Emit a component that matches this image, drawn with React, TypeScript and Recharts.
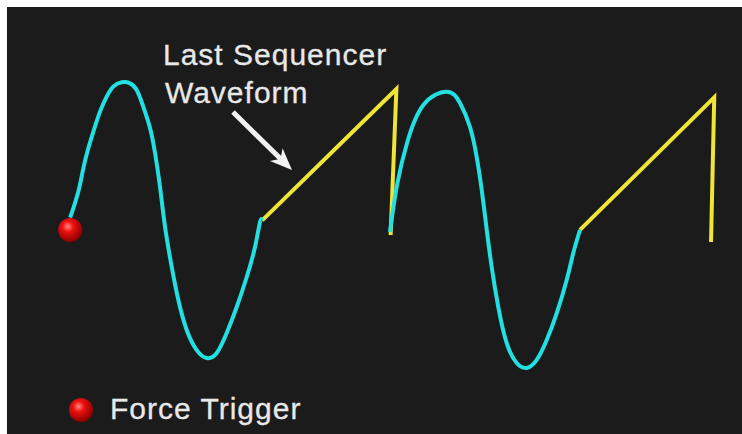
import { ComposedChart, Line, Scatter, XAxis, YAxis, ReferenceLine, ReferenceDot, Legend } from "recharts";

type Pt = { t: number; v: number };

// t = time (arbitrary units), v = level (normalised)
const sineBurst1: Pt[] = [
  { t: 0.0, v: 0.05 },
  { t: 0.126, v: 0.235 },
  { t: 0.204, v: 0.402 },
  { t: 0.282, v: 0.546 },
  { t: 0.36, v: 0.664 },
  { t: 0.464, v: 0.808 },
  { t: 0.568, v: 0.915 },
  { t: 0.671, v: 0.987 },
  { t: 0.802, v: 1.018 },
  { t: 0.931, v: 1.011 },
  { t: 1.036, v: 0.963 },
  { t: 1.135, v: 0.848 },
  { t: 1.243, v: 0.691 },
  { t: 1.321, v: 0.512 },
  { t: 1.399, v: 0.268 },
  { t: 1.477, v: -0.018 },
  { t: 1.581, v: -0.304 },
  { t: 1.684, v: -0.541 },
  { t: 1.814, v: -0.755 },
  { t: 1.97, v: -0.899 },
  { t: 2.126, v: -0.956 },
  { t: 2.282, v: -0.92 },
  { t: 2.437, v: -0.777 },
  { t: 2.593, v: -0.591 },
  { t: 2.749, v: -0.376 },
  { t: 2.878, v: -0.161 },
  { t: 2.956, v: 0.018 },
  { t: 2.99, v: 0.03 },
];

const ramp1: Pt[] = [
  { t: 2.99, v: 0.03 },
  { t: 5.08, v: 0.97 },
  { t: 4.99, v: -0.075 },
];

const sineBurst2: Pt[] = [
  { t: 4.98, v: -0.054 },
  { t: 5.09, v: 0.283 },
  { t: 5.25, v: 0.591 },
  { t: 5.5, v: 0.856 },
  { t: 5.864, v: 0.951 },
  { t: 6.071, v: 0.87 },
  { t: 6.226, v: 0.698 },
  { t: 6.331, v: 0.483 },
  { t: 6.409, v: 0.247 },
  { t: 6.487, v: -0.039 },
  { t: 6.564, v: -0.304 },
  { t: 6.667, v: -0.591 },
  { t: 6.798, v: -0.849 },
  { t: 6.954, v: -0.992 },
  { t: 7.11, v: -1.027 },
  { t: 7.265, v: -0.97 },
  { t: 7.421, v: -0.827 },
  { t: 7.577, v: -0.634 },
  { t: 7.732, v: -0.397 },
  { t: 7.835, v: -0.204 },
  { t: 7.939, v: -0.039 },
];

const ramp2: Pt[] = [
  { t: 7.939, v: -0.039 },
  { t: 10.03, v: 0.91 },
  { t: 9.98, v: -0.125 },
];

const triggerPoint: Pt[] = [{ t: 0.0, v: -0.04 }];

const calloutLines = ["Last Sequencer", "Waveform"];
const calloutAt = { t: 1.445, v: 1.142 };
const arrowFrom = { t: 2.535, v: 0.805 };
const arrowTo = { t: 3.454, v: 0.39 };

const CYAN = "#22e0e2";
const YELLOW = "#f0e436";
const TEXT = "#e8e8e8";
const FONT = "'Liberation Sans', Arial, sans-serif";

const BallGradient = ({ id }: { id: string }) => (
  <radialGradient id={id} cx="40%" cy="35%" r="65%">
    <stop offset="0%" stopColor="#ff8a80" />
    <stop offset="35%" stopColor="#f01010" />
    <stop offset="100%" stopColor="#8a0000" />
  </radialGradient>
);

const Arrow = (props: any) => {
  const { x1, y1, x2, y2 } = props;
  const dx = x2 - x1;
  const dy = y2 - y1;
  const len = Math.hypot(dx, dy);
  const ux = dx / len;
  const uy = dy / len;
  const headLen = 22;
  const half = 9;
  const bx = x2 - ux * headLen;
  const by = y2 - uy * headLen;
  const nx = x2 - ux * (headLen - 6);
  const ny = y2 - uy * (headLen - 6);
  const pts = [
    [x2, y2],
    [bx - uy * half, by + ux * half],
    [nx, ny],
    [bx + uy * half, by - ux * half],
  ]
    .map((p) => p.join(","))
    .join(" ");
  return (
    <g>
      <line x1={x1} y1={y1} x2={nx} y2={ny} stroke="#f2f2f2" strokeWidth={5} />
      <polygon points={pts} fill="#f2f2f2" />
    </g>
  );
};

const Callout = (props: any) => {
  const { x, y } = props.viewBox || {};
  return (
    <text x={x} y={y} fill={TEXT} stroke={TEXT} strokeWidth={0.3} fontFamily={FONT} fontSize={30} letterSpacing={1}>
      <tspan x={x} y={y}>{calloutLines[0]}</tspan>
      <tspan x={x + 2} y={y + 38}>{calloutLines[1]}</tspan>
    </text>
  );
};

const Key = (props: any) => {
  const item = (props.payload || [])[0];
  return (
    <svg width={250} height={40} style={{ display: "block" }}>
      <defs>
        <BallGradient id="keyBall" />
      </defs>
      <circle cx={17} cy={17} r={12} fill="url(#keyBall)" />
      <text x={46} y={26} fill={TEXT} stroke={TEXT} strokeWidth={0.3} fontFamily={FONT} fontSize={30} letterSpacing={1}>
        {item ? item.value : ""}
      </text>
    </svg>
  );
};

export default function App() {
  return (
    <div style={{ position: "absolute", left: 0, top: 0, width: 742, height: 434, background: "#fff" }}>
      <div style={{ position: "absolute", left: 7, top: 7, right: 0, bottom: 0, background: "#1b1b1b" }} />
      <div style={{ position: "absolute", left: 0, top: 0 }}>
        <ComposedChart width={742} height={434} margin={{ top: 15, right: 4, bottom: 0, left: 6 }}>
          <defs>
            <BallGradient id="trigBall" />
          </defs>
          <XAxis type="number" dataKey="t" domain={[-1, 10.4]} allowDataOverflow hide />
          <YAxis type="number" dataKey="v" domain={[-1.5, 1.5]} allowDataOverflow hide />
          <Line data={ramp1} dataKey="v" type="linear" stroke={YELLOW} strokeWidth={4} dot={false} activeDot={false} legendType="none" isAnimationActive={false} />
          <Line data={ramp2} dataKey="v" type="linear" stroke={YELLOW} strokeWidth={4} dot={false} activeDot={false} legendType="none" isAnimationActive={false} />
          <Line data={sineBurst1} dataKey="v" type="natural" stroke={CYAN} strokeWidth={4} dot={false} activeDot={false} legendType="none" isAnimationActive={false} />
          <Line data={sineBurst2} dataKey="v" type="natural" stroke={CYAN} strokeWidth={4} dot={false} activeDot={false} legendType="none" isAnimationActive={false} />
          <Scatter
            name="Force Trigger"
            data={triggerPoint}
            dataKey="v"
            isAnimationActive={false}
            shape={(p: any) => <circle cx={p.cx} cy={p.cy} r={12} fill="url(#trigBall)" />}
          />
          <ReferenceLine
            segment={[
              { x: arrowFrom.t, y: arrowFrom.v },
              { x: arrowTo.t, y: arrowTo.v },
            ]}
            shape={Arrow}
          />
          <ReferenceDot x={calloutAt.t} y={calloutAt.v} r={0} fill="none" stroke="none" label={{ content: Callout }} />
          <Legend layout="vertical" align="center" verticalAlign="middle" content={Key} wrapperStyle={{ left: 64, top: 393 }} />
        </ComposedChart>
      </div>
    </div>
  );
}
